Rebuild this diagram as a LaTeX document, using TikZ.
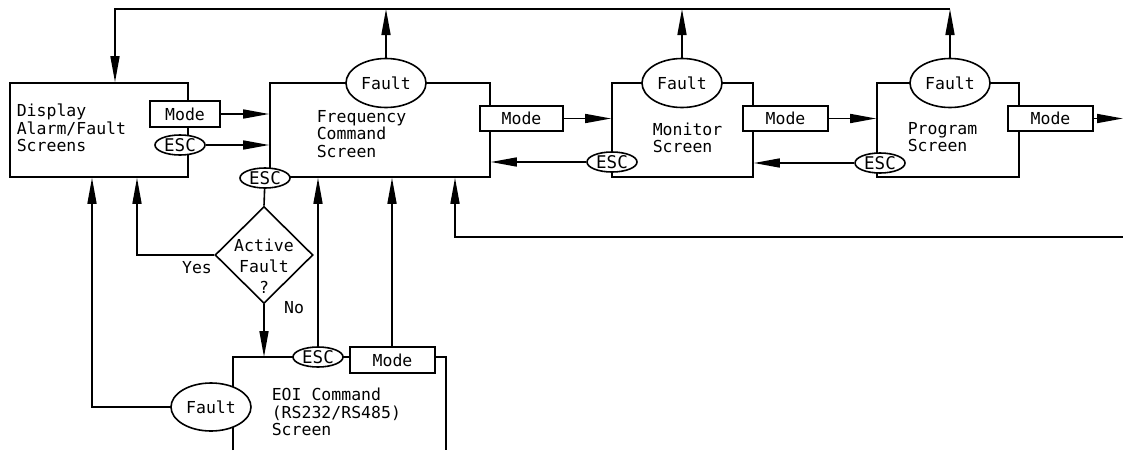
\documentclass[tikz,border=0pt]{standalone}
\usepackage{fontspec}
\newfontfamily\cadfont{DejaVu Sans Mono}
\usetikzlibrary{shapes.geometric,arrows.meta,calc}
\begin{document}
\begin{tikzpicture}[x=1pt,y=-1pt,line width=1.6pt,
  every node/.style={font=\cadfont\fontsize{16.5}{17.5}\selectfont},
  screenbox/.style={draw,rectangle,inner sep=0pt},
  modebox/.style={draw,rectangle,fill=white,inner sep=0pt,minimum width=84pt,minimum height=25pt},
  escell/.style={draw,ellipse,fill=white,inner sep=0pt,minimum width=50pt,minimum height=20pt,font=\cadfont\fontsize{17.5}{18}\selectfont},
  faultell/.style={draw,ellipse,fill=white,inner sep=0pt,minimum width=80pt,minimum height=49pt},
  lbl/.style={align=left,inner sep=0pt,anchor=west},
  arr/.style={-{Triangle[length=26pt,width=9pt]}}
]
\useasboundingbox (0,0) rectangle (1123,450);

% screen boxes
\node[screenbox,minimum width=178pt,minimum height=94pt] (disp) at (99,130) {};
\node[screenbox,minimum width=220pt,minimum height=94pt] (freq) at (380,130) {};
\node[screenbox,minimum width=141pt,minimum height=94pt] (mon) at (682.5,130) {};
\node[screenbox,minimum width=142pt,minimum height=94pt] (prog) at (948,130) {};
\coordinate (eoiBL) at (233,450);
\coordinate (eoiTL) at (233,357);
\coordinate (eoiTR) at (446,357);
\coordinate (eoiBR) at (446,450);
\draw (eoiBL) -- (eoiTL) -- (eoiTR) -- (eoiBR);

% box texts
\node[lbl] (dispT) at (16,128) {Display\\Alarm/Fault\\Screens};
\node[lbl] (freqT) at (316,134) {Frequency\\Command\\Screen};
\node[lbl] (monT) at (652,138) {Monitor\\Screen};
\node[lbl] (progT) at (907,137) {Program\\Screen};
\node[lbl] (eoiT) at (271,412) {EOI Command\\(RS232/RS485)\\Screen};

% decision
\node[draw,diamond,aspect=1,inner sep=0pt,minimum width=98pt,minimum height=97pt] (dia) at (264,255) {};
\node[align=center,inner sep=0pt,font=\cadfont\fontsize{16.5}{21}\selectfont] (diaT) at (264,266) {Active\\Fault\\?};
\node[inner sep=0pt] (yes) at (197,268) {Yes};
\node[inner sep=0pt] (no) at (294,308) {No};

% top bus
\coordinate (topL) at (115,9);
\coordinate (topR) at (950,9);
\draw[arr] (topR) -- (topL) -- (topL |- disp.north);

% bottom bus
\coordinate (botR) at (1123,237);
\coordinate (botL) at (455,237);
\draw[arr] (botR) -- (botL) -- (botL |- freq.south);

% connectors under the on-edge nodes
\coordinate (escFreqPt) at (265,178);
\draw (escFreqPt) -- (dia.north);
\coordinate (yesPt) at (137,255);
\draw[arr] (dia.west) -- (yesPt) -- (yesPt |- disp.south);
\draw[arr] (dia.south) -- (dia.south |- eoiTL);
\coordinate (eoiEscPt) at (318,357);
\draw[arr] (eoiEscPt) -- (eoiEscPt |- freq.south);
\coordinate (eoiModePt) at (392,357);
\draw[arr] (eoiModePt) -- (eoiModePt |- freq.south);
\coordinate (eoiFaultPt) at (211,407);
\coordinate (faultPt) at (92,407);
\draw[arr] (eoiFaultPt) -- (faultPt) -- (faultPt |- disp.south);

% on-edge nodes
\node[modebox,minimum width=70pt,minimum height=26pt] (dispMode) at (185,114) {Mode};
\node[escell] (dispEsc) at (180,145) {ESC};
\node[faultell] (freqFault) at (386,83) {Fault};
\node[escell] (freqEsc) at (265,178) {ESC};
\node[modebox,minimum width=83pt] (freqMode) at (521.5,118.5) {Mode};
\node[faultell] (monFault) at (682,83) {Fault};
\node[escell] (monEsc) at (612,162) {ESC};
\node[modebox,minimum width=85pt] (monMode) at (785.5,118.5) {Mode};
\node[faultell] (progFault) at (950,83) {Fault};
\node[escell] (progEsc) at (880,163) {ESC};
\node[modebox,minimum width=85pt] (progMode) at (1050.5,118.5) {Mode};
\node[escell] (eoiEsc) at (318,357) {ESC};
\node[modebox,minimum width=85pt,minimum height=26pt] (eoiMode) at (392.5,360) {Mode};
\node[faultell,minimum height=48pt] (eoiFault) at (211,407) {Fault};

% fault arrows to the top bus
\draw[arr] (freqFault.north) -- (freqFault.north |- topL);
\draw[arr] (monFault.north) -- (monFault.north |- topL);
\draw[arr] (progFault.north) -- (topR);

% horizontal connectors
\draw[arr] (dispMode.east) -- (dispMode.east -| freq.west);
\draw[arr] (dispEsc.east) -- (dispEsc.east -| freq.west);
\draw[arr] (freqMode.east) -- (freqMode.east -| mon.west);
\draw[arr] (monEsc.west) -- (monEsc.west -| freq.east);
\draw[arr] (monMode.east) -- (monMode.east -| prog.west);
\draw[arr] (progEsc.west) -- (progEsc.west -| mon.east);
\coordinate (outR) at (1123,118.5);
\draw[arr] (progMode.east) -- (outR);
\end{tikzpicture}
\end{document}
